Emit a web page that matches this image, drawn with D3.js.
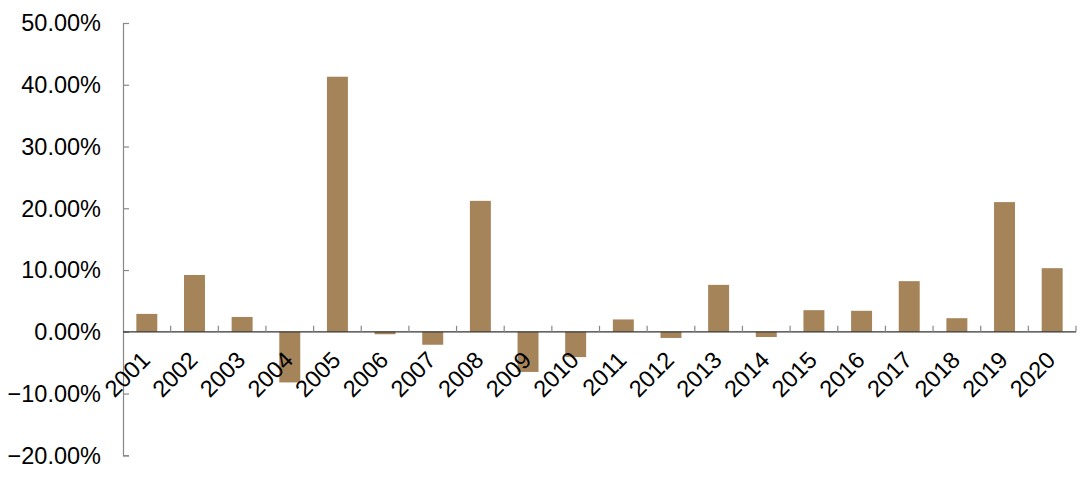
<!DOCTYPE html>
<html><head><meta charset="utf-8">
<script src="https://cdn.jsdelivr.net/npm/d3@7/dist/d3.min.js"></script>
<style>html,body{margin:0;padding:0;background:#fff;}svg{display:block;}</style>
</head><body>
<svg id="chart" width="1089" height="477"></svg>
<script>
const years = ["2001","2002","2003","2004","2005","2006","2007","2008","2009","2010","2011","2012","2013","2014","2015","2016","2017","2018","2019","2020"];
const returns = [2.9, 9.2, 2.4, -8.2, 41.3, -0.4, -2.1, 21.2, -6.5, -4.1, 2.0, -1.0, 7.6, -0.85, 3.5, 3.4, 8.2, 2.2, 21.0, 10.3];
const yTicks = [-20, -10, 0, 10, 20, 30, 40, 50];

(function () {
const svg = d3.select("#chart");
const mLeft = 123, mRight = 1076, mTop = 23, mBottom = 455.3;
const font = "'Liberation Sans', Arial, sans-serif";
const fs = 23.5;

const x = d3.scaleBand().domain(years).range([mLeft, mRight]).paddingInner(0.56).paddingOuter(0.28);
const xb = d3.scaleBand().domain(years).range([mLeft, mRight]);
const y = d3.scaleLinear().domain([-20, 50]).range([mBottom, mTop]);

// bars
svg.append("g").selectAll("rect").data(years).join("rect")
  .attr("x", d => x(d))
  .attr("width", x.bandwidth())
  .attr("y", (d, i) => y(Math.max(0, returns[i])))
  .attr("height", (d, i) => Math.abs(y(returns[i]) - y(0)))
  .attr("fill", "#a6845a");

// y axis
const yAxis = svg.append("g").attr("transform", `translate(${mLeft},0)`)
  .call(d3.axisRight(y).tickValues(yTicks).tickSize(6).tickFormat(""));
yAxis.select(".domain").attr("stroke", "#888").attr("stroke-width", 1.2);
yAxis.selectAll(".tick line").attr("stroke", "#888").attr("stroke-width", 1.2);
svg.append("g").selectAll("text").data(yTicks).join("text")
  .attr("x", 101).attr("y", d => y(d)).attr("dy", "0.36em")
  .attr("text-anchor", "end").attr("font-family", font).attr("font-size", fs)
  .attr("fill", "#000")
  .text(d => d3.format(".2f")(d) + "%");

// x axis line at zero
const x0 = y(0);
svg.append("line").attr("x1", mLeft).attr("x2", mRight).attr("y1", x0).attr("y2", x0)
  .attr("stroke", "#333").attr("stroke-width", 1.3);
const bounds = years.map(d => xb(d) + xb.bandwidth());
svg.append("g").selectAll("line").data(bounds).join("line")
  .attr("x1", d => d).attr("x2", d => d).attr("y1", x0).attr("y2", x0 - 6)
  .attr("stroke", "#888").attr("stroke-width", 1.2);

// x labels
svg.append("g").selectAll("text").data(years).join("text")
  .attr("transform", d => `translate(${xb(d) + xb.bandwidth() / 2 - 7},${x0 + 18}) rotate(-45)`)
  .attr("text-anchor", "end").attr("dy", "0.7em")
  .attr("font-family", font).attr("font-size", fs).attr("fill", "#000")
  .text(d => d);
})();
</script>
</body></html>
